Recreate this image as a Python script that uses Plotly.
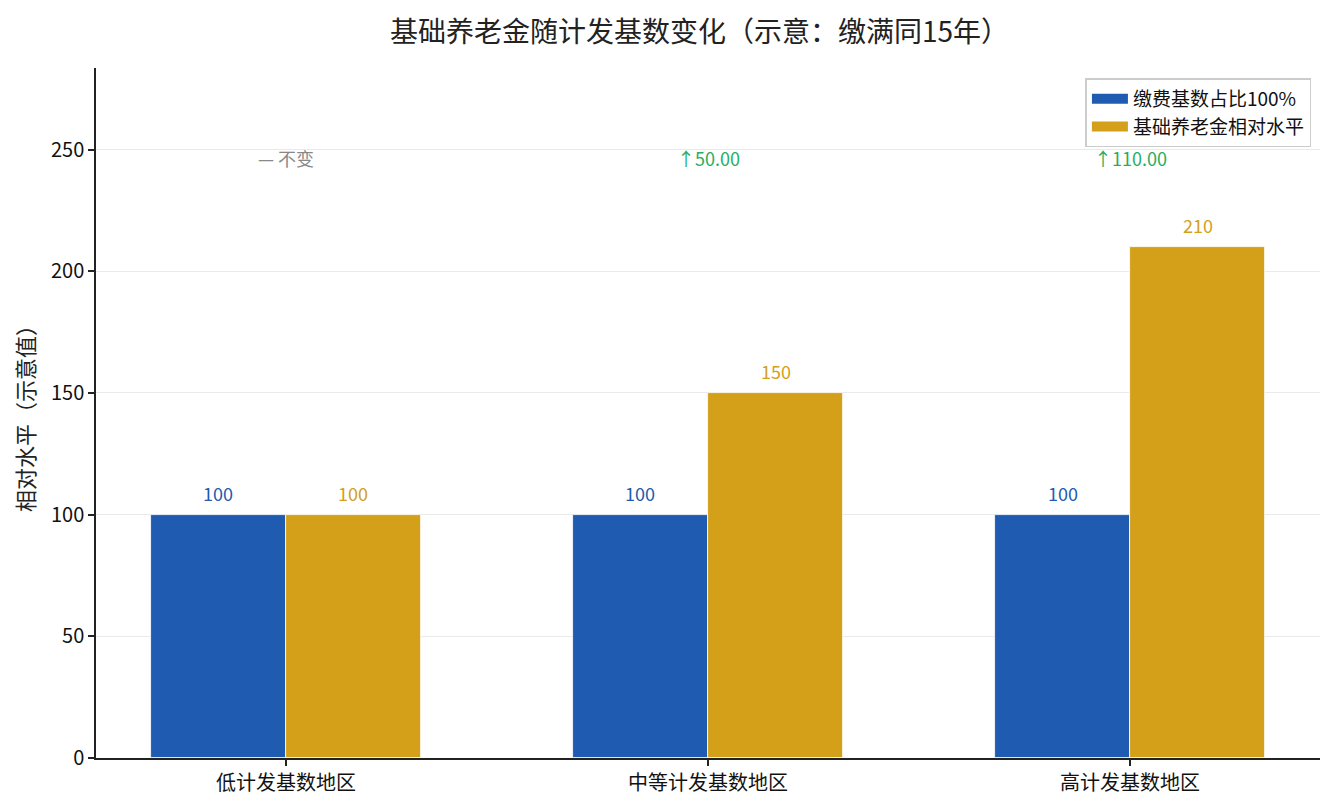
import plotly.graph_objects as go

categories = ["低计发基数地区", "中等计发基数地区", "高计发基数地区"]
contrib_values = [100, 100, 100]
pension_values = [100, 150, 210]
change_labels = ["— 不变", "↑50.00", "↑110.00"]
change_colors = ["#888888", "#27ae60", "#27ae60"]
series_names = ["缴费基数占比100%", "基础养老金相对水平"]
y_ticks = [0, 50, 100, 150, 200, 250]

BLUE = "#1f5bb0"
GOLD = "#d4a01a"
FONT = "Noto Sans CJK SC"
W = 0.32

idx = list(range(len(categories)))
fig = go.Figure()
for vals, col, off, name in [(contrib_values, BLUE, -W / 2, series_names[0]),
                             (pension_values, GOLD, W / 2, series_names[1])]:
    xs = [i + off for i in idx]
    fig.add_trace(go.Bar(
        x=xs, y=vals, width=W, name=name, showlegend=False,
        marker=dict(color=col, line=dict(color="white", width=0.8)),
    ))
    for x, v in zip(xs, vals):
        fig.add_annotation(x=x, y=v, text=str(v), showarrow=False, yshift=22,
                           font=dict(color=col, size=18, family=FONT),
                           xanchor="center", yanchor="middle")
    # legend proxy
    fig.add_trace(go.Scatter(x=[None], y=[None], mode="lines", name=name,
                             line=dict(color=col, width=12), hoverinfo="skip"))

ymax = max(pension_values) * 1.35
for i, (lab, col) in enumerate(zip(change_labels, change_colors)):
    fig.add_annotation(x=i, y=246.5, text=lab, showarrow=False,
                       font=dict(color=col, size=18, family=FONT), xanchor="center", yanchor="middle")

fig.update_layout(
    width=1335, height=810,
    barmode="overlay",
    paper_bgcolor="white", plot_bgcolor="white",
    margin=dict(l=88, r=23, t=60, b=60),
    font=dict(family=FONT, color="#222222"),
    title=dict(text="基础养老金随计发基数变化（示意：缴满同15年）", x=0.518, xanchor="center",
               y=0.97, yanchor="middle", font=dict(size=28, family=FONT, color="#222222")),
    showlegend=True,
    legend=dict(x=0.993, y=0.985, xanchor="right", yanchor="top",
                bgcolor="rgba(255,255,255,0.9)", bordercolor="#cccccc", borderwidth=1.5,
                font=dict(size=19, family=FONT, color="#111111"), itemwidth=36),
    bargap=0,
)
fig.update_xaxes(
    range=[-0.45, 2.45], tickvals=idx, ticktext=categories,
    showline=True, linecolor="#222222", linewidth=1.5,
    ticks="outside", ticklen=6, tickcolor="#222222", tickwidth=1.5,
    showgrid=False, zeroline=False, tickfont=dict(size=20, family=FONT, color="#111111"),
    automargin=False,
)
fig.update_yaxes(
    range=[0, ymax], tickvals=y_ticks,
    showline=True, linecolor="#222222", linewidth=1.5,
    ticks="outside", ticklen=6, tickcolor="#222222", tickwidth=1.5,
    showgrid=True, gridcolor="rgba(220,220,220,0.6)", gridwidth=1, zeroline=False,
    layer="above traces", automargin=False,
    tickfont=dict(size=20, family=FONT, color="#111111"),
    title=dict(text="相对水平（示意值）", font=dict(size=22, family=FONT, color="#222222"), standoff=10),
)
fig.write_html("out.html")
